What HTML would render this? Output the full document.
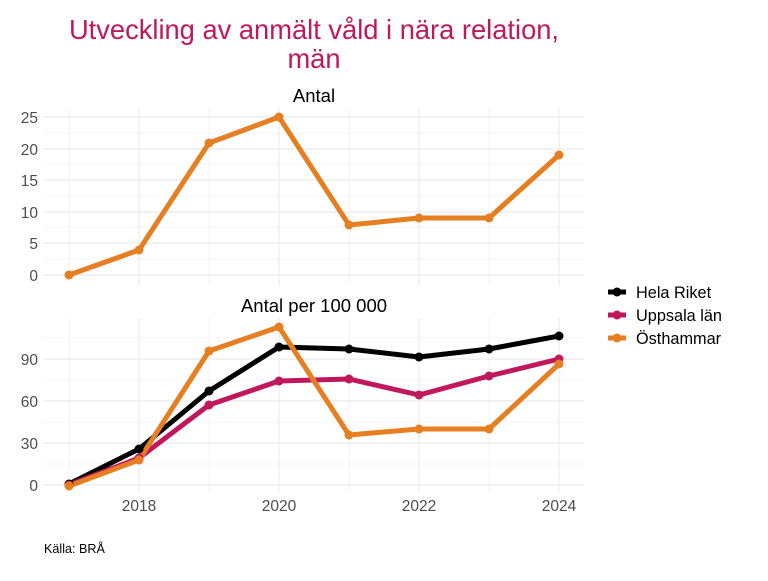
<!DOCTYPE html>
<html><head><meta charset="utf-8"><style>body{margin:0;background:#fff}</style></head><body>
<svg width="768" height="576" xmlns="http://www.w3.org/2000/svg" font-family="Liberation Sans, sans-serif">
<rect width="768" height="576" fill="#fff"/>
<text x="314" y="39" font-size="27.3" fill="#c0175d" text-anchor="middle">Utveckling av anmält våld i nära relation,</text>
<text x="314" y="68" font-size="27.3" fill="#c0175d" text-anchor="middle">män</text>
<text x="314" y="102" font-size="18.5" text-anchor="middle">Antal</text>
<text x="314" y="312" font-size="18.5" text-anchor="middle">Antal per 100 000</text>
<g stroke="#ebebeb" stroke-width="0.6">
<line x1="44" x2="584" y1="259" y2="259"/><line x1="44" x2="584" y1="227" y2="227"/><line x1="44" x2="584" y1="196" y2="196"/><line x1="44" x2="584" y1="164" y2="164"/><line x1="44" x2="584" y1="133" y2="133"/>
<line x1="44" x2="584" y1="464" y2="464"/><line x1="44" x2="584" y1="422" y2="422"/><line x1="44" x2="584" y1="380" y2="380"/><line x1="44" x2="584" y1="338" y2="338"/>
<line x1="69" x2="69" y1="108" y2="285"/><line x1="209" x2="209" y1="108" y2="285"/><line x1="349" x2="349" y1="108" y2="285"/><line x1="489" x2="489" y1="108" y2="285"/>
<line x1="69" x2="69" y1="318" y2="492"/><line x1="209" x2="209" y1="318" y2="492"/><line x1="349" x2="349" y1="318" y2="492"/><line x1="489" x2="489" y1="318" y2="492"/>
</g>
<g stroke="#ebebeb" stroke-width="1.2">
<line x1="44" x2="584" y1="275" y2="275"/><line x1="44" x2="584" y1="243" y2="243"/><line x1="44" x2="584" y1="212" y2="212"/><line x1="44" x2="584" y1="180" y2="180"/><line x1="44" x2="584" y1="149" y2="149"/><line x1="44" x2="584" y1="117" y2="117"/>
<line x1="44" x2="584" y1="485" y2="485"/><line x1="44" x2="584" y1="443" y2="443"/><line x1="44" x2="584" y1="401" y2="401"/><line x1="44" x2="584" y1="359" y2="359"/>
<line x1="139" x2="139" y1="108" y2="285"/><line x1="279" x2="279" y1="108" y2="285"/><line x1="419" x2="419" y1="108" y2="285"/><line x1="559" x2="559" y1="108" y2="285"/>
<line x1="139" x2="139" y1="318" y2="492"/><line x1="279" x2="279" y1="318" y2="492"/><line x1="419" x2="419" y1="318" y2="492"/><line x1="559" x2="559" y1="318" y2="492"/>
</g>
<g font-size="15.5" fill="#4d4d4d" text-anchor="end">
<text x="38" y="281">0</text><text x="38" y="249">5</text><text x="38" y="218">10</text><text x="38" y="186">15</text><text x="38" y="155">20</text><text x="38" y="123">25</text>
<text x="38" y="491">0</text><text x="38" y="449">30</text><text x="38" y="407">60</text><text x="38" y="365">90</text>
</g>
<g font-size="15.5" fill="#4d4d4d" text-anchor="middle">
<text x="139" y="511">2018</text><text x="279" y="511">2020</text><text x="419" y="511">2022</text><text x="559" y="511">2024</text>
</g>
<g fill="none" stroke-width="5" stroke-linejoin="round">
<polyline stroke="#e67e22" points="69,275 139,250 209,143 279,117 349,225 419,218 489,218 559,155"/>
<polyline stroke="#000" points="69,484 139,449 209,391 279,347 349,349 419,357 489,349 559,336"/>
<polyline stroke="#c0175d" points="69,485 139,458 209,405 279,381 349,379 419,395 489,376 559,359"/>
<polyline stroke="#e67e22" points="69,486 139,460 209,351 279,327 349,435 419,429 489,429 559,364"/>
</g>
<g fill="#e67e22"><circle cx="69" cy="275" r="4.5"/><circle cx="139" cy="250" r="4.5"/><circle cx="209" cy="143" r="4.5"/><circle cx="279" cy="117" r="4.5"/><circle cx="349" cy="225" r="4.5"/><circle cx="419" cy="218" r="4.5"/><circle cx="489" cy="218" r="4.5"/><circle cx="559" cy="155" r="4.5"/></g>
<g fill="#000"><circle cx="69" cy="484" r="4.5"/><circle cx="139" cy="449" r="4.5"/><circle cx="209" cy="391" r="4.5"/><circle cx="279" cy="347" r="4.5"/><circle cx="349" cy="349" r="4.5"/><circle cx="419" cy="357" r="4.5"/><circle cx="489" cy="349" r="4.5"/><circle cx="559" cy="336" r="4.5"/></g>
<g fill="#c0175d"><circle cx="69" cy="485" r="4.5"/><circle cx="139" cy="458" r="4.5"/><circle cx="209" cy="405" r="4.5"/><circle cx="279" cy="381" r="4.5"/><circle cx="349" cy="379" r="4.5"/><circle cx="419" cy="395" r="4.5"/><circle cx="489" cy="376" r="4.5"/><circle cx="559" cy="359" r="4.5"/></g>
<g fill="#e67e22"><circle cx="69" cy="486" r="4.5"/><circle cx="139" cy="460" r="4.5"/><circle cx="209" cy="351" r="4.5"/><circle cx="279" cy="327" r="4.5"/><circle cx="349" cy="435" r="4.5"/><circle cx="419" cy="429" r="4.5"/><circle cx="489" cy="429" r="4.5"/><circle cx="559" cy="364" r="4.5"/></g>
<g stroke-width="5"><line x1="608" x2="626" y1="292" y2="292" stroke="#000"/><line x1="608" x2="626" y1="315" y2="315" stroke="#c0175d"/><line x1="608" x2="626" y1="338" y2="338" stroke="#e67e22"/></g>
<circle cx="617" cy="292" r="4.5" fill="#000"/><circle cx="617" cy="315" r="4.5" fill="#c0175d"/><circle cx="617" cy="338" r="4.5" fill="#e67e22"/>
<g font-size="16.3"><text x="636" y="298">Hela Riket</text><text x="636" y="321">Uppsala län</text><text x="636" y="344">Östhammar</text></g>
<text x="44" y="553" font-size="12.6">Källa: BRÅ</text>
</svg>
</body></html>
